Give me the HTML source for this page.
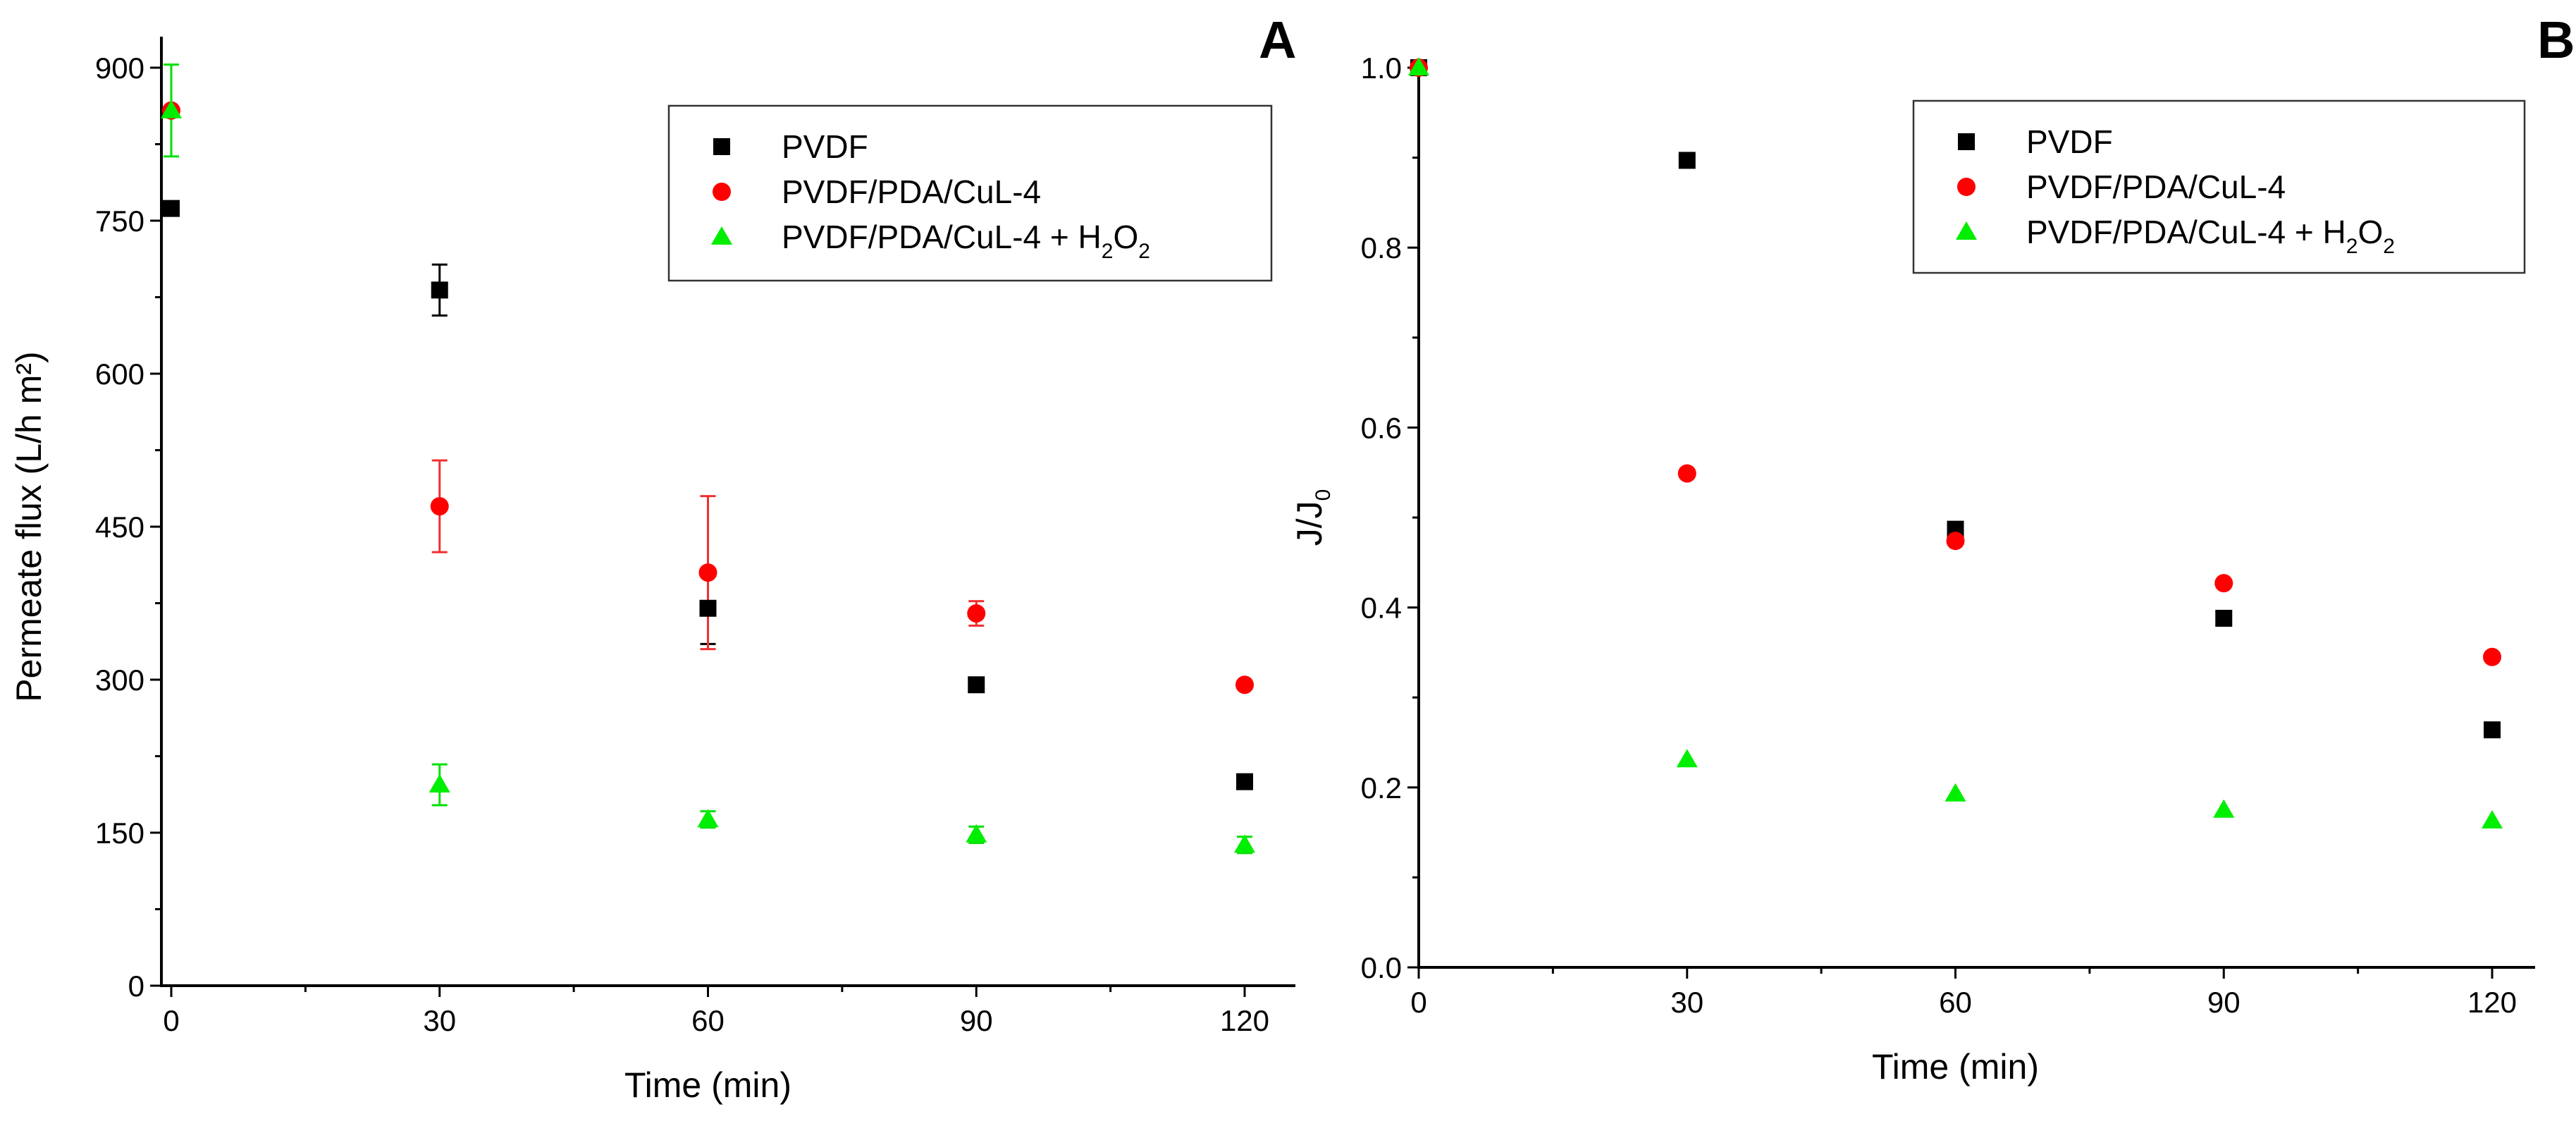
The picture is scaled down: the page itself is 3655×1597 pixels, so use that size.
<!DOCTYPE html>
<html><head><meta charset="utf-8"><style>
html,body{margin:0;padding:0;background:#fff}
svg{display:block;font-family:"Liberation Sans",Arial,sans-serif}
</style></head><body>
<svg id="s" width="3655" height="1597" viewBox="0 0 3655 1597"></svg>
<script>
const times=[0,30,60,90,120];
const aPVDF=[762,682,370,295,200];
const aPVDFerr=[0,25,35,0,0];
const aRed=[858,470,405,365,295];
const aRedErr=[0,45,75,12,0];
const aGreen=[858,197,163,148,138];
const aGreenErr=[45,20,8,8,8];
const bPVDF=[1.0,0.897,0.487,0.388,0.264];
const bRed=[1.0,0.549,0.474,0.427,0.345];
const bGreen=[1.0,0.231,0.193,0.175,0.163];
const aYTicks=[0,150,300,450,600,750,900];
const bYTicks=[0,0.2,0.4,0.6,0.8,1.0];
const xTicks=[0,30,60,90,120];
const NS="http://www.w3.org/2000/svg";
const svg=document.getElementById('s');
function mk(tag,attrs,parent,text){const e=document.createElementNS(NS,tag);for(const k in attrs)e.setAttribute(k,attrs[k]);if(text!==undefined)e.textContent=text;(parent||svg).appendChild(e);return e;}
function panel(P){
  const g=mk('g',{});
  
  
  const X=v=>P.x0+(v-0)/120*(P.x120-P.x0);
  const Y=v=>P.y0-(v/P.ymax)*(P.y0-P.ytop);
  const ax=mk('path',{d:`M${P.axX},${P.axTop}V${P.y0}H${P.axRight}`,stroke:'#000','stroke-width':4,fill:'none'},g);
  
  xTicks.forEach(t=>{mk('line',{x1:X(t),x2:X(t),y1:P.y0,y2:P.y0+16,stroke:'#000','stroke-width':3},g);
    const l=mk('text',{x:X(t),y:P.y0+64,'font-size':42,'text-anchor':'middle'},g,t);
    
    if(t<120)mk('line',{x1:X(t+15),x2:X(t+15),y1:P.y0,y2:P.y0+9,stroke:'#000','stroke-width':3},g);});
  P.yTicks.forEach((t,i)=>{mk('line',{x1:P.axX-16,x2:P.axX,y1:Y(t),y2:Y(t),stroke:'#000','stroke-width':3},g);
    const l=mk('text',{x:P.axX-24,y:Y(t)+15,'font-size':42,'text-anchor':'end'},g,P.fmt(t));
    
    if(i<P.yTicks.length-1){const m=(t+P.yTicks[i+1])/2;mk('line',{x1:P.axX-9,x2:P.axX,y1:Y(m),y2:Y(m),stroke:'#000','stroke-width':3},g);}});
  const xt=mk('text',{x:(P.x0+P.x120)/2,y:P.y0+158,'font-size':50,'text-anchor':'middle'},g,'Time (min)');
  
  const yt=mk('text',{transform:`translate(${P.ytX},${(P.y0+P.ytop)/2}) rotate(-90)`,'font-size':50,'text-anchor':'middle'},g);
  
  P.ytitle(yt);
  const lt=mk('text',{x:P.letterX,y:82,'font-size':74,'font-weight':'bold'},g,P.letter);
  
  function errs(vals,err,col){vals.forEach((v,i)=>{if(!err||!err[i])return;const x=X(times[i]),a=Y(v+err[i]),b=Y(v-err[i]);
    const e=mk('path',{d:`M${x},${a}V${b}M${x-11},${a}H${x+11}M${x-11},${b}H${x+11}`,stroke:col,'stroke-width':3,fill:'none'},g);
    });}
  function sq(x,y,c){return mk('rect',{x:x-12,y:y-12,width:24,height:24,fill:c},g);}
  function ci(x,y,c){return mk('circle',{cx:x,cy:y,r:13,fill:c},g);}
  function tr(x,y,c){return mk('path',{d:`M${x},${y-15}L${x+15},${y+11}L${x-15},${y+11}Z`,fill:c},g);}
  errs(P.s1,P.e1,'#000');errs(P.s2,P.e2,'#f03030');errs(P.s3,P.e3,'#00e000');
  P.s1.forEach((v,i)=>{const m=sq(X(times[i]),Y(v),'#000');});
  P.s2.forEach((v,i)=>{const m=ci(X(times[i]),Y(v),'#ff0000');});
  P.s3.forEach((v,i)=>{const m=tr(X(times[i]),Y(v),'#00ee00');});
  const L=P.leg;
  const lb=mk('rect',{x:L.x,y:L.y,width:L.w,height:L.h,fill:'#fff',stroke:'#333','stroke-width':2.5},g);
  
  const lx=L.x+75,tx=L.x+160,rows=[L.y+58,L.y+122,L.y+186];
  sq(lx,rows[0],'#000');ci(lx,rows[1],'#ff0000');tr(lx,rows[2],'#00ee00');
  ['PVDF','PVDF/PDA/CuL-4'].forEach((s,i)=>{const t=mk('text',{x:tx,y:rows[i]+16,'font-size':46},g,s);});
  const t3=mk('text',{x:tx,y:rows[2]+16,'font-size':46},g);
  
  t3.appendChild(document.createTextNode('PVDF/PDA/CuL-4 + H'));
  mk('tspan',{dy:14,'font-size':30},t3,'2');mk('tspan',{dy:-14},t3,'O');mk('tspan',{dy:14,'font-size':30},t3,'2');
}
panel({name:'panel-a',x0:243,x120:1766,y0:1398,ytop:96,ymax:900,axX:229,axTop:52,axRight:1838,yTicks:aYTicks,fmt:t=>t,
  ytX:58,ytitle:e=>{e.textContent='Permeate flux (L/h m²)';},letter:'A',letterX:1786,
  s1:aPVDF,e1:aPVDFerr,s2:aRed,e2:aRedErr,s3:aGreen,e3:aGreenErr,
  leg:{x:949,y:150,w:855,h:248}});
panel({name:'panel-b',x0:2013,x120:3536,y0:1372,ytop:96,ymax:1.0,axX:2013,axTop:90,axRight:3597,yTicks:bYTicks,fmt:t=>t.toFixed(1),
  ytX:1875,ytitle:e=>{e.appendChild(document.createTextNode('J/J'));mk('tspan',{dy:12,'font-size':30},e,'0');},letter:'B',letterX:3600,
  s1:bPVDF,e1:null,s2:bRed,e2:null,s3:bGreen,e3:null,
  leg:{x:2715,y:143,w:867,h:244}});
</script>
</body></html>
